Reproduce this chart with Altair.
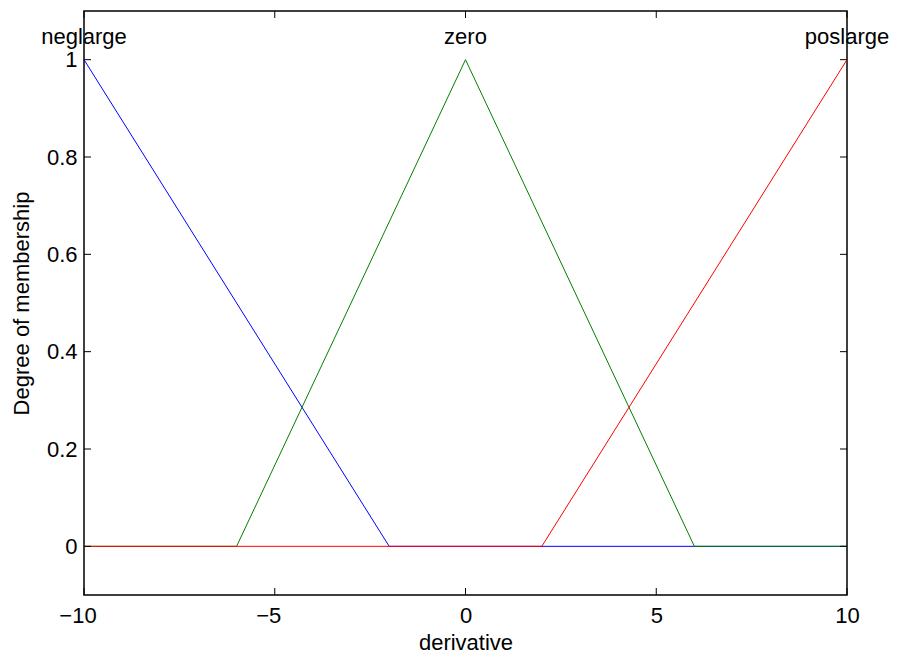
import altair as alt
import pandas as pd

# Membership functions of the "derivative" input (breakpoints and degrees)
mf_names = ["neglarge", "zero", "poslarge"]
mf_colors = ["#0000ff", "#008000", "#ff0000"]

neglarge_x = [-10, -2, 10]
neglarge_y = [1, 0, 0]
zero_x = [-10, -6, 0, 6, 10]
zero_y = [0, 0, 1, 0, 0]
poslarge_x = [-10, 2, 10]
poslarge_y = [0, 0, 1]

# Names printed above each function's peak
label_x = [-10, 0, 10]
label_y = [1, 1, 1]

x_ticks = [-10, -5, 0, 5, 10]
y_ticks = [0, 0.2, 0.4, 0.6, 0.8, 1]

FONT = "Liberation Sans"
FS = 22
W, H = 763, 584

rows = []
for name, xs, ys in zip(mf_names, [neglarge_x, zero_x, poslarge_x],
                        [neglarge_y, zero_y, poslarge_y]):
    for i, (xv, yv) in enumerate(zip(xs, ys)):
        rows.append({"mf": name, "idx": i, "x": xv, "y": yv})
lines_df = pd.DataFrame(rows)
labels_df = pd.DataFrame({"mf": mf_names, "x": label_x, "y": label_y})
xt_df = pd.DataFrame({"x": x_ticks})
yt_df = pd.DataFrame({"y": y_ticks})

x_scale = alt.Scale(domain=[-10, 10], nice=False, zero=False)
y_scale = alt.Scale(domain=[-0.1, 1.1], nice=False, zero=False)

x_axis = alt.Axis(
    values=x_ticks, title="derivative", grid=False, ticks=False, tickSize=0,
    domain=False, labelFont=FONT, labelFontSize=FS, labelColor="black",
    labelBaseline="alphabetic", labelPadding=27, labelFlush=False,
    labelOffset={"condition": {"test": "datum.value < 0", "value": -6.5}, "value": 0},
    titleFont=FONT, titleFontSize=FS, titleFontWeight="normal", titleColor="black",
    titleBaseline="alphabetic", titleY=54,
)
y_axis = alt.Axis(
    values=y_ticks, format=".1~f", title="Degree of membership", grid=False,
    ticks=False, tickSize=0, domain=False, labelFont=FONT, labelFontSize=FS,
    labelColor="black", labelBaseline="middle", labelPadding=7, labelFlush=False,
    titleFont=FONT, titleFontSize=FS, titleFontWeight="normal", titleColor="black",
    titleBaseline="alphabetic", titleX=-56, titleAngle=-90,
)


def X(field="x"):
    return alt.X(f"{field}:Q", scale=x_scale, axis=x_axis, title="derivative")


def Y(field="y"):
    return alt.Y(f"{field}:Q", scale=y_scale, axis=y_axis, title="Degree of membership")


layers = []
for name, col in zip(mf_names, mf_colors):
    layers.append(
        alt.Chart(lines_df)
        .transform_filter(alt.datum.mf == name)
        .mark_line(color=col, strokeWidth=1)
        .encode(x=X(), y=Y(), order="idx:Q")
    )

labels = alt.Chart(labels_df).mark_text(
    font=FONT, fontSize=FS, color="black", align="center",
    baseline="alphabetic", dy=-16,
).encode(x=X(), y=Y(), text="mf:N")

# Inward tick marks on all four sides of the box
tick_len = 7
bottom_ticks = alt.Chart(xt_df).mark_rule(color="black", strokeWidth=1).encode(
    x=X(), y=alt.value(H), y2=alt.value(H - tick_len))
top_ticks = alt.Chart(xt_df).mark_rule(color="black", strokeWidth=1).encode(
    x=X(), y=alt.value(0), y2=alt.value(tick_len))
left_ticks = alt.Chart(yt_df).mark_rule(color="black", strokeWidth=1).encode(
    y=Y(), x=alt.value(0), x2=alt.value(tick_len))
right_ticks = alt.Chart(yt_df).mark_rule(color="black", strokeWidth=1).encode(
    y=Y(), x=alt.value(W), x2=alt.value(W - tick_len))

chart = (
    alt.layer(*layers, labels, bottom_ticks, top_ticks, left_ticks, right_ticks)
    .properties(
        width=W, height=H,
        autosize=alt.AutoSizeParams(type="none"),
        padding={"left": 84, "top": 11, "right": 50, "bottom": 62},
        background="white",
    )
    .configure_view(stroke="black", strokeWidth=1.5)
)

chart.save("out.html", embed_options={"renderer": "svg", "actions": False})
